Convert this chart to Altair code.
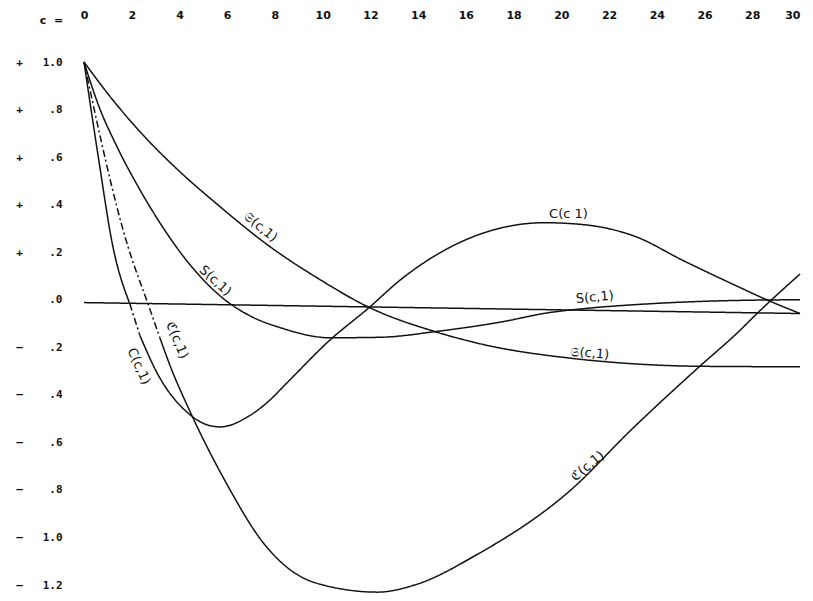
import altair as alt
import pandas as pd

NB = "\u00a0"

# ---- axis ticks ----
c_ticks = list(range(0, 31, 2))
y_ticks = [1.0, 0.8, 0.6, 0.4, 0.2, 0.0, -0.2, -0.4, -0.6, -0.8, -1.0, -1.2]
y_tick_labels = ["+   1.0", "+    .8", "+    .6", "+    .4", "+    .2", "     .0",
                 "–    .2", "–    .4", "–    .6", "–    .8", "–   1.0", "–   1.2"]

# ---- curves ----
# Fraktur S(c,1): upper curve
A_c = [0, 1.13, 2.5, 4.0, 5.6, 7.7, 9.8, 11.9, 14.8, 16.8, 20.3, 23.1, 25.8, 30]
A_v = [1.0, 0.85, 0.69, 0.54, 0.40, 0.23, 0.09, -0.03, -0.137, -0.19, -0.245, -0.27, -0.28, -0.282]

# S(c,1)
B_c = [0, 0.6, 1.4, 2.3, 3.4, 4.5, 5.9, 7.0, 8.3, 10.3, 12.4, 14.8, 17.4, 19.5, 21.0, 23.7, 26.5, 30]
B_v = [1.0, 0.82, 0.64, 0.47, 0.29, 0.14, 0.0, -0.07, -0.12, -0.16, -0.158, -0.133, -0.095, -0.054, -0.037, -0.017, -0.005, 0.0]

# C(c,1)
E_c = [0, 0.6, 1.21, 1.92, 2.34, 3.1, 4.4, 5.0, 5.7, 6.9, 7.7, 8.5, 10.3, 11.9, 13.3, 15.4, 17.4, 19.3, 21.0, 23.1, 25.1, 27.3, 28.6, 30]
E_v = [1.0, 0.60, 0.224, -0.017, -0.15, -0.315, -0.48, -0.52, -0.535, -0.49, -0.43, -0.35, -0.17, -0.037, 0.087, 0.224, 0.30, 0.324, 0.315, 0.266, 0.165, 0.06, 0.0, -0.058]
E_breaks = [0, 3, 4, len(E_c) - 1]   # segment boundaries (indices)
E_style = ["solid", "dashdot", "solid"]

# Fraktur C(c,1): deep curve
D_c = [0, 1.84, 2.68, 3.18, 3.64, 4.35, 5.9, 7.57, 9.67, 12.3, 13.85, 16.5, 20.4, 22.9, 25.8, 27.4, 28.2, 30]
D_v = [1.0, 0.224, -0.017, -0.16, -0.286, -0.45, -0.76, -1.03, -1.19, -1.23, -1.20, -1.07, -0.80, -0.55, -0.28, -0.137, -0.058, 0.108]
D_breaks = [0, 3, len(D_c) - 1]
D_style = ["dashdot", "solid"]

# near-zero reference line (drawn slightly tilted on the sheet)
Z_c = [0, 30]
Z_v = [-0.012, -0.058]

# ---- curve labels ----
lab_text = ["𝔖(c,1)", "S(c,1)", "ℭ(c,1)", "C(c,1)", "C(c 1)", "S(c,1)", "𝔖(c,1)", "ℭ(c,1)"]
lab_c = [7.4, 5.5, 3.9, 2.3, 20.3, 21.4, 21.2, 21.1]
lab_v = [0.305, 0.08, -0.17, -0.28, 0.36, 0.01, -0.225, -0.70]
lab_angle = [39, 42, 68, 66, 0, 355, 5, 320]


def segs(name, cs, vs, breaks=None, styles=None):
    rows = []
    if breaks is None:
        breaks = [0, len(cs) - 1]
        styles = ["solid"]
    for k in range(len(breaks) - 1):
        for i in range(breaks[k], breaks[k + 1] + 1):
            rows.append({"seg": f"{name}{k}", "style": styles[k], "c": cs[i], "v": vs[i]})
    return rows


rows = []
rows += segs("A", A_c, A_v)
rows += segs("B", B_c, B_v)
rows += segs("E", E_c, E_v, E_breaks, E_style)
rows += segs("D", D_c, D_v, D_breaks, D_style)
rows += segs("Z", Z_c, Z_v)
df = pd.DataFrame(rows)

labels = pd.DataFrame({"t": lab_text, "c": lab_c, "v": lab_v, "a": lab_angle})

expr_vals = "[" + ",".join(str(v) for v in y_ticks) + "]"
expr_labs = "[" + ",".join("'" + s.replace(" ", NB) + "'" for s in y_tick_labels) + "]"
label_expr = f"{expr_labs}[indexof({expr_vals}, datum.value)]"

xscale = alt.Scale(domain=[0, 30], nice=False, zero=False)
yscale = alt.Scale(domain=[-1.2, 1.0], nice=False, zero=False)

xaxis = alt.Axis(orient="top", values=c_ticks, title="c" + NB * 2 + "=", titleX=-33, titleY=-42,
                 titleAlign="center", titleBaseline="middle", titleFontSize=11,
                 titleFont="DejaVu Sans", titleFontWeight="bold", titleColor="#111",
                 labelFont="DejaVu Sans", labelFontWeight="bold", labelFontSize=11,
                 labelColor="#111", labelPadding=42, ticks=False, tickSize=0,
                 domain=False, grid=False, labelFlush=False,
                 labelAlign={"condition": {"test": "datum.value == 30", "value": "right"}, "value": "center"})
yaxis = alt.Axis(orient="left", values=y_ticks, title=None, labelExpr=label_expr,
                 labelFont="DejaVu Sans Mono", labelFontWeight="bold", labelFontSize=11,
                 labelColor="#111", labelPadding=22, ticks=False, tickSize=0,
                 domain=False, grid=False, labelFlush=False)

lines = alt.Chart(df).mark_line(interpolate="monotone", color="#111", strokeWidth=1.5, clip=False).encode(
    x=alt.X("c:Q", scale=xscale, axis=xaxis),
    y=alt.Y("v:Q", scale=yscale, axis=yaxis),
    detail="seg:N",
    strokeDash=alt.StrokeDash("style:N", scale=alt.Scale(domain=["solid", "dashdot"],
                                                          range=[[1, 0], [7, 3, 2, 3]]), legend=None),
    order=alt.Order("c:Q"),
)

text = alt.Chart(labels).mark_text(font="DejaVu Sans", fontSize=13, color="#111",
                                   align="center", baseline="middle").encode(
    x=alt.X("c:Q", scale=xscale),
    y=alt.Y("v:Q", scale=yscale),
    text="t:N",
    angle=alt.Angle("a:Q", scale=None),
)

chart = (lines + text).properties(
    width=716, height=523,
    background="white",
    autosize=alt.AutoSizeParams(type="none"),
    padding={"left": 76, "top": 54, "right": 5, "bottom": 8},
).configure_view(stroke=None).configure_axis(grid=False)

chart.save("out.html", embed_options={"renderer": "svg", "actions": False})
